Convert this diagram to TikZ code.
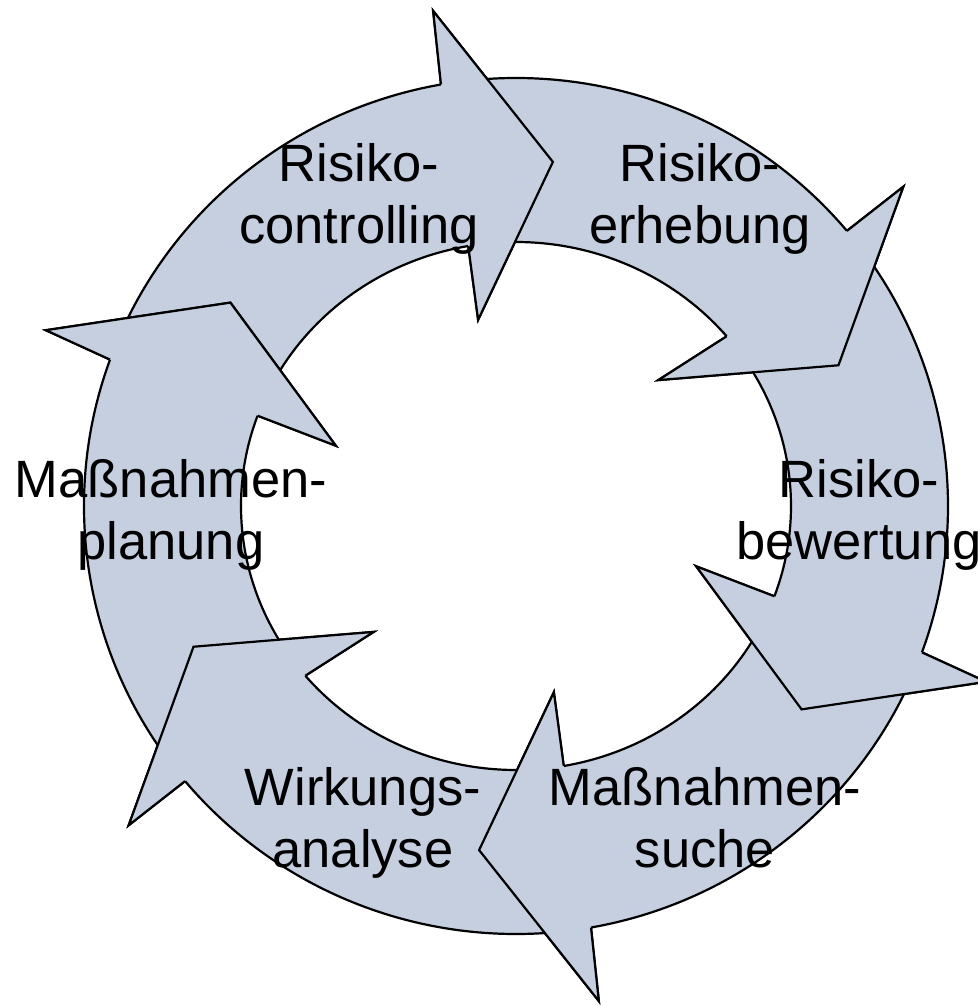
\documentclass[tikz,border=0pt]{standalone}
\usepackage{fontspec}
\setmainfont{Liberation Sans}
\usepackage{tikz}
\usetikzlibrary{shapes, positioning}
\definecolor{ringblue}{RGB}{197,207,224}

\begin{document}
\begin{tikzpicture}[x=1pt, y=1pt, semithick]
\tikzstyle{every node}=[align=center, anchor=base, font=\fontsize{52.5}{62}\selectfont]
\tikzstyle{ringarrow}=[fill=ringblue, draw=black, line width=2.2pt]

\useasboundingbox (-516,-499) rectangle (462,506);

% ring arrows, clockwise
\foreach \headang in {100,40,-20,-80,-140,160} {
  \pgfmathsetmacro{\tailang}{\headang+55}
  \path[ringarrow] ({432*cos(\tailang)},{428*sin(\tailang)})
    arc[start angle=\tailang, end angle=\headang, x radius=432pt, y radius=428pt]
    -- ({\headang-0.5}:502) -- ({353*cos(\headang-16)},{346*sin(\headang-16)})
    -- ({\headang+1.5}:190) -- ({275*cos(\headang)},{264*sin(\headang)})
    arc[start angle=\headang, end angle=\tailang, x radius=275pt, y radius=264pt] -- cycle;
}
% heads again, over the next tail
\foreach \headang in {100,40,-20,-80,-140,160}
  \path[ringarrow] ({432*cos(\headang)},{428*sin(\headang)}) -- ({\headang-0.5}:502)
    -- ({353*cos(\headang-16)},{346*sin(\headang-16)}) -- ({\headang+1.5}:190)
    -- ({275*cos(\headang)},{264*sin(\headang)});

\node (ctrl)   at (-157,263)  {Risiko-\\controlling};
\node (erheb)  at (184,263)   {Risiko-\\erhebung};
\node (bewert) at (343,-53)   {Risiko-\\bewertung};
\node (suche)  at (189,-361)  {Maßnahmen-\\suche};
\node (wirk)   at (-153,-361) {Wirkungs-\\analyse};
\node (plan)   at (-345,-53)  {Maßnahmen-\\planung};

\end{tikzpicture}
\end{document}
